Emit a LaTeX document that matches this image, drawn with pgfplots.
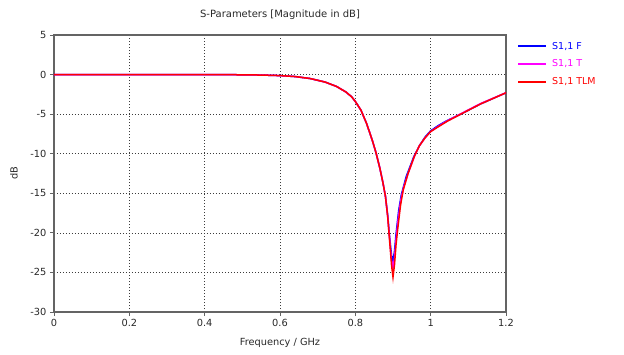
\documentclass[border=0pt]{standalone}
\usepackage{fontspec}
\setmainfont{DejaVu Sans}
\usepackage{pgfplots}
\pgfplotsset{compat=1.18}
\definecolor{cstblue}{RGB}{0,0,255}
\definecolor{cstmag}{RGB}{255,0,255}
\definecolor{cstred}{RGB}{255,0,0}
\definecolor{gridc}{RGB}{60,60,60}
\definecolor{axc}{RGB}{100,100,100}
\definecolor{txtc}{RGB}{40,40,40}
\begin{document}
\begin{tikzpicture}
\begin{axis}[
  scale only axis, width=452pt, height=277pt,
  xmin=0, xmax=1.2, ymin=-30, ymax=5,
  xtick={0,0.2,0.4,0.6,0.8,1,1.2},
  ytick={-30,-25,-20,-15,-10,-5,0,5},
  xtick pos=bottom, ytick pos=left,
  grid=major,
  major grid style={gridc, dash pattern=on 1.2pt off 1.8pt, line width=0.6pt},
  axis line style={axc, line width=1.1pt},
  tick style={axc, line width=0.8pt}, tick align=outside, major tick length=4pt,
  /pgf/number format/assume math mode=true,
  ticklabel style={font=\fontsize{9.8}{11}\selectfont, text=txtc},
  title={S-Parameters [Magnitude in dB]},
  title style={font=\fontsize{10}{12}\selectfont, text=txtc, at={(axis description cs:0.5,1)}, anchor=center, yshift=14pt},
  xlabel={Frequency / GHz},
  xlabel style={font=\fontsize{9.8}{11}\selectfont, text=txtc, at={(axis description cs:0.5,0)}, anchor=center, yshift=-31pt},
  ylabel={dB},
  ylabel style={font=\fontsize{9.8}{11}\selectfont, text=txtc, at={(axis description cs:0,0.5)}, anchor=center, yshift=40pt},
  legend style={at={(axis description cs:1,1)}, anchor=north west, xshift=8pt, yshift=-3pt,
    draw=none, fill=none, font=\fontsize{9.5}{10}\selectfont, row sep=5pt,
    /tikz/every odd column/.append style={column sep=3pt}},
  legend cell align=left,
  legend image code/.code={\draw[#1, line width=2pt] (0pt,0pt) -- (28pt,0pt);},
]
\addplot[draw=cstblue, line width=1.5pt] coordinates {
(0,0) (0.2,0) (0.4,0) (0.46,-0.01) (0.5,-0.03) (0.55,-0.06) (0.6,-0.13) (0.64,-0.25)
(0.68,-0.5) (0.72,-0.95) (0.75,-1.5) (0.775,-2.2) (0.79,-2.8) (0.8,-3.4) (0.815,-4.5) (0.83,-6.2)
(0.845,-8.3) (0.855,-9.9) (0.865,-11.8) (0.873,-13.6) (0.88,-15.4) (0.886,-17.8) (0.891,-20.5)
(0.896,-22.8) (0.9,-23.6) (0.904,-22.3) (0.908,-20.2) (0.915,-17.2) (0.922,-15.2)
(0.935,-12.9) (0.955,-10.4) (0.97,-9.0) (0.985,-7.9) (1.0,-7.1) (1.02,-6.45)
(1.044,-5.8) (1.08,-5.0) (1.133,-3.7) (1.2,-2.3)
};
\addlegendentry[text=cstblue]{S1,1 F}
\addplot[draw=cstmag, line width=1.5pt] coordinates {
(0,0) (0.2,0) (0.4,0) (0.46,-0.01) (0.5,-0.03) (0.55,-0.06) (0.6,-0.13) (0.64,-0.25)
(0.68,-0.5) (0.72,-0.95) (0.75,-1.5) (0.775,-2.2) (0.79,-2.8) (0.8,-3.4) (0.815,-4.5) (0.83,-6.2)
(0.845,-8.3) (0.855,-9.9) (0.865,-11.8) (0.873,-13.6) (0.88,-15.4) (0.886,-18) (0.891,-20.8)
(0.896,-23.4) (0.9,-24.4) (0.904,-23.2) (0.908,-20.9) (0.914,-18.2) (0.921,-15.8)
(0.928,-14.3) (0.94,-12.5) (0.957,-10.3) (0.97,-9.0) (0.985,-8.0) (1.0,-7.2) (1.02,-6.55)
(1.044,-5.85) (1.08,-4.95) (1.133,-3.65) (1.2,-2.3)
};
\addlegendentry[text=cstmag]{S1,1 T}
\addplot[draw=cstred, line width=1.5pt] coordinates {
(0,0) (0.2,0) (0.4,0) (0.46,-0.01) (0.5,-0.03) (0.55,-0.06) (0.6,-0.13) (0.64,-0.25)
(0.68,-0.5) (0.72,-0.95) (0.75,-1.5) (0.775,-2.2) (0.79,-2.8) (0.8,-3.4) (0.815,-4.5) (0.83,-6.2)
(0.845,-8.3) (0.855,-9.9) (0.865,-11.8) (0.873,-13.6) (0.88,-15.4) (0.886,-18) (0.891,-21)
(0.896,-24) (0.9,-25.6) (0.904,-24) (0.908,-21.5) (0.913,-19.3) (0.92,-16.5)
(0.927,-14.6) (0.94,-12.5) (0.957,-10.3) (0.97,-9.0) (0.985,-8.0) (1.0,-7.2) (1.02,-6.6)
(1.044,-5.9) (1.08,-5.0) (1.133,-3.7) (1.2,-2.3)
};
\addlegendentry[text=cstred]{S1,1 TLM}
\end{axis}
\pgfresetboundingbox
\path[use as bounding box] (current axis.south west) +(-54pt,-42pt) rectangle +(570pt,312pt);
\end{tikzpicture}
\end{document}
